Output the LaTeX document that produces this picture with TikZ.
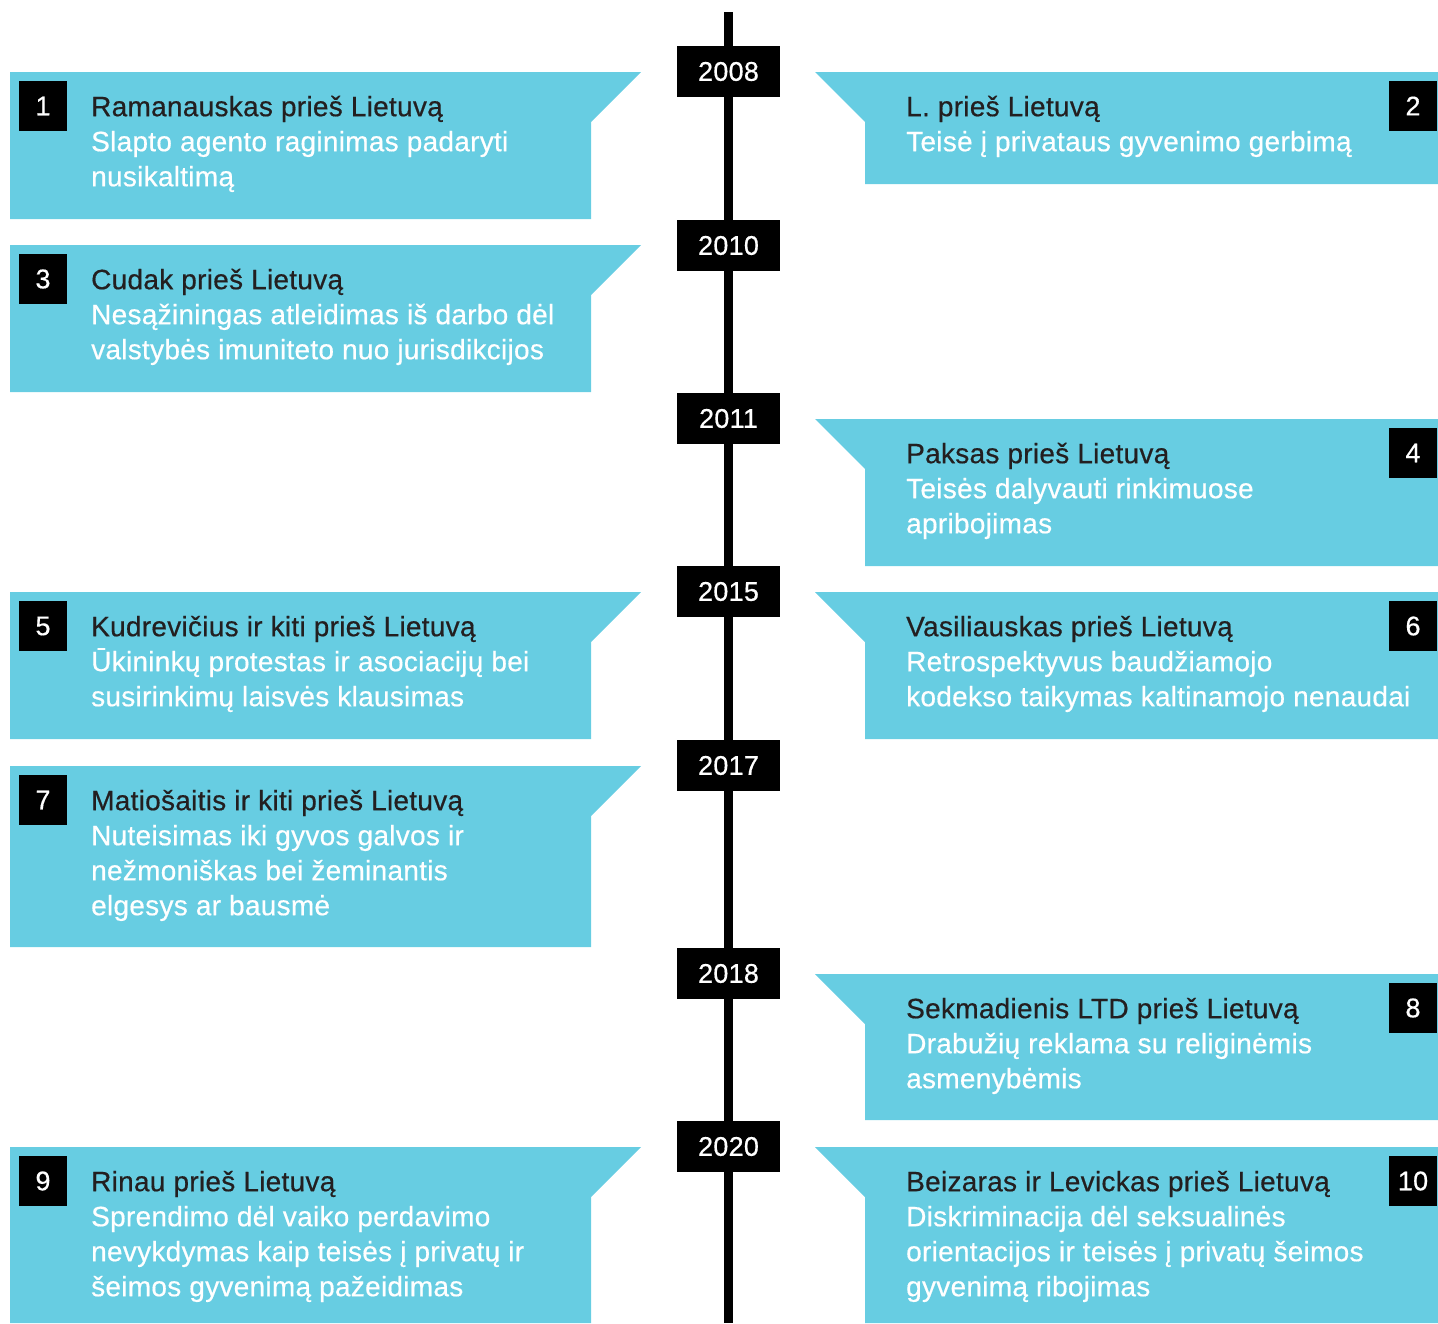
\documentclass[tikz,border=0pt]{standalone}
\usepackage{fontspec}
\setmainfont{Liberation Sans}[FakeBold=0.5,LetterSpace=1.0]
\definecolor{cardblue}{RGB}{103,205,226}
\definecolor{titlegray}{RGB}{35,31,32}
\tikzset{
  cardfill/.style={fill=cardblue},
  numbox/.style={fill=black,text=white,minimum width=48pt,minimum height=50pt,inner sep=0pt,font=\fontsize{27}{27}\selectfont},
  yearbox/.style={fill=black,text=white,minimum width=103pt,minimum height=51pt,inner sep=0pt,font=\fontsize{27}{27}\selectfont},
  cardtext/.style={anchor=north west,inner sep=0pt,align=left,text=white,font=\fontsize{28}{35}\selectfont},
  timeline/.style={line width=9pt,black},
}
\newcommand\LCard[5]{%
  \fill[cardfill] (10,#2) -- (641,#2) -- (591,{#2+50}) -- (591,#3) -- (10,#3) -- cycle;
  \node[numbox] (n#1) at (43,{#2+34}) {#1};
  \node[cardtext] (t#1) at (91,{#2+20}) {\rule{0pt}{24pt}\textcolor{titlegray}{#4}\\#5};
}
\newcommand\RCard[5]{%
  \fill[cardfill] (815,#2) -- (1438,#2) -- (1438,#3) -- (865,#3) -- (865,{#2+50}) -- cycle;
  \node[numbox] (n#1) at (1413,{#2+34}) {#1};
  \node[cardtext] (t#1) at (906,{#2+20}) {\rule{0pt}{24pt}\textcolor{titlegray}{#4}\\#5};
}
\begin{document}
\begin{tikzpicture}[x=1pt,y=-1pt]
\useasboundingbox (0,0) rectangle (1438,1323);
\coordinate (ltop) at (728,12);
\coordinate (lbot) at (728,1323);
\draw[timeline] (ltop) -- (lbot);
\node[yearbox] (y2008) at (728.5,71.5) {2008};
\node[yearbox] (y2010) at (728.5,245.5) {2010};
\node[yearbox] (y2011) at (728.5,418.5) {2011};
\node[yearbox] (y2015) at (728.5,591.5) {2015};
\node[yearbox] (y2017) at (728.5,765.5) {2017};
\node[yearbox] (y2018) at (728.5,973.5) {2018};
\node[yearbox] (y2020) at (728.5,1146.5) {2020};

\LCard{1}{72}{219}{Ramanauskas prieš Lietuvą}{Slapto agento raginimas padaryti\\nusikaltimą}
\RCard{2}{72}{184}{L. prieš Lietuvą}{Teisė į privataus gyvenimo gerbimą}
\LCard{3}{245}{392}{Cudak prieš Lietuvą}{Nesąžiningas atleidimas iš darbo dėl\\valstybės imuniteto nuo jurisdikcijos}
\RCard{4}{419}{566}{Paksas prieš Lietuvą}{Teisės dalyvauti rinkimuose\\apribojimas}
\LCard{5}{592}{739}{Kudrevičius ir kiti prieš Lietuvą}{Ūkininkų protestas ir asociacijų bei\\susirinkimų laisvės klausimas}
\RCard{6}{592}{739}{Vasiliauskas prieš Lietuvą}{Retrospektyvus baudžiamojo\\kodekso taikymas kaltinamojo nenaudai}
\LCard{7}{766}{947}{Matiošaitis ir kiti prieš Lietuvą}{Nuteisimas iki gyvos galvos ir\\nežmoniškas bei žeminantis\\elgesys ar bausmė}
\RCard{8}{974}{1120}{Sekmadienis LTD prieš Lietuvą}{Drabužių reklama su religinėmis\\asmenybėmis}
\LCard{9}{1147}{1323}{Rinau prieš Lietuvą}{Sprendimo dėl vaiko perdavimo\\nevykdymas kaip teisės į privatų ir\\šeimos gyvenimą pažeidimas}
\RCard{10}{1147}{1323}{Beizaras ir Levickas prieš Lietuvą}{Diskriminacija dėl seksualinės\\orientacijos ir teisės į privatų šeimos\\gyvenimą ribojimas}
\end{tikzpicture}
\end{document}
